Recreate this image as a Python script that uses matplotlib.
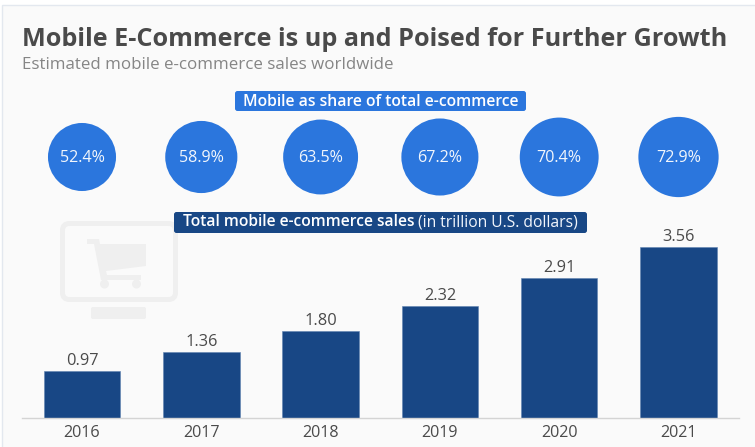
import matplotlib
matplotlib.use("Agg")
import matplotlib.pyplot as plt
from matplotlib.patches import Rectangle, FancyBboxPatch, Circle

plt.rcParams['font.family'] = ['Open Sans', 'DejaVu Sans']

years = ['2016', '2017', '2018', '2019', '2020', '2021']
sales = [0.97, 1.36, 1.80, 2.32, 2.91, 3.56]
shares = [52.4, 58.9, 63.5, 67.2, 70.4, 72.9]
sales_labels = ['0.97', '1.36', '1.80', '2.32', '2.91', '3.56']
share_labels = ['52.4%', '58.9%', '63.5%', '67.2%', '70.4%', '72.9%']

W, H = 755, 447
NAVY = '#184785'
BLUE = '#2b76dd'
TXT = '#4a4a4a'
BG = '#fafafa'

def box(l, t, r, b):
    return [l / W, 1 - b / H, (r - l) / W, (b - t) / H]

fig = plt.figure(figsize=(W / 100, H / 100), dpi=100, facecolor='#ffffff')

# overlay in pixel coordinates for decorations
bg = fig.add_axes([0, 0, 1, 1], zorder=0)
bg.set_xlim(0, W); bg.set_ylim(H, 0); bg.axis('off')
bg.add_patch(Rectangle((1.5, 4.5), W, H, fc=BG, ec='#e3e8ef', lw=1))

# faint monitor and cart icon
IC = '#efefef'
bg.add_patch(FancyBboxPatch((62.5, 223.5), 113, 76, boxstyle='round,pad=0,rounding_size=7', fc='none', ec=IC, lw=3.6))
bg.add_patch(FancyBboxPatch((91, 307), 55, 12, boxstyle='round,pad=0,rounding_size=2', fc=IC, ec='none'))
bg.add_patch(plt.Polygon([(87, 239), (99, 239), (100, 244), (146, 244), (146, 266), (106, 271), (107, 275),
                          (141, 275), (141, 280), (101, 280), (94, 244), (87, 244)],
                         closed=True, fc=IC, ec='none'))
bg.add_patch(Circle((104.5, 284), 4.5, fc=IC, ec='none'))
bg.add_patch(Circle((136.5, 284), 4.5, fc=IC, ec='none'))

# bars
ax = fig.add_axes(box(22, 220, 739, 417.5), zorder=2)
ax.patch.set_alpha(0)
xpos = list(range(len(years)))
px_per_step = 119.3
ax.set_xlim((22 - 82) / px_per_step, (739 - 82) / px_per_step)
ax.set_ylim(0, 197.5 / 48.0)
ax.bar(xpos, sales, width=76.5 / px_per_step, color=NAVY, edgecolor='#5f82b0', linewidth=0.4)
for x, v, s in zip(xpos, sales, sales_labels):
    ax.annotate(s, (x, v), xytext=(0, 1.5), textcoords='offset points', ha='center', va='bottom',
                fontsize=11.8, color=TXT)
ax.set_xticks(xpos, years)
ax.tick_params(axis='x', length=0, pad=5.5, labelsize=11.6, labelcolor=TXT)
ax.set_yticks([])
for sp in ['top', 'left', 'right']:
    ax.spines[sp].set_visible(False)
ax.spines['bottom'].set_color('#d4d4d4')
ax.spines['bottom'].set_linewidth(1)

# bubbles
cx = fig.add_axes(box(22, 110, 739, 204), zorder=2)
cx.patch.set_alpha(0)
cx.set_xlim(ax.get_xlim()); cx.set_ylim(0, 1); cx.axis('off')
sizes = [(2 * 4.7 * 0.72) ** 2 * v for v in shares]
cx.scatter(xpos, [0.5] * 6, s=sizes, color=BLUE, linewidths=0, clip_on=False)
for x, s in zip(xpos, share_labels):
    cx.text(x, 0.485, s, ha='center', va='center', fontsize=11.6, color='#f2f6fc')

# headings
fig.text(22 / W, 1 - 39.2 / H, 'Mobile E-Commerce is up and Poised for Further Growth',
         fontsize=18.22, fontweight='bold', color=TXT, va='center', ha='left')
fig.text(22 / W, 1 - 65 / H, 'Estimated mobile e-commerce sales worldwide',
         fontsize=12.2, color='#858585', va='center', ha='left')

# badges
top = fig.add_axes([0, 0, 1, 1], zorder=3)
top.set_xlim(0, W); top.set_ylim(H, 0); top.axis('off')
top.add_patch(FancyBboxPatch((235, 91), 291, 20, boxstyle='round,pad=0,rounding_size=2.5', fc=BLUE, ec='none'))
top.text(380.5, 101.5, 'Mobile as share of total e-commerce', ha='center', va='center',
         fontsize=11.3, fontweight='semibold', color='white')
top.add_patch(FancyBboxPatch((174, 212), 413, 21, boxstyle='round,pad=0,rounding_size=2.5', fc=NAVY, ec='none'))
t1 = top.text(183, 222.5, 'Total mobile e-commerce sales', ha='left', va='center', fontsize=11.25,
              fontweight='semibold', color='white')
fig.canvas.draw()
bb = t1.get_window_extent().transformed(top.transData.inverted())
top.text(bb.x1 + 3.5, 222.5, '(in trillion U.S. dollars)', ha='left', va='center', fontsize=11.25, color='#f2f6fc')

fig.savefig('out.png', dpi=100, facecolor=fig.get_facecolor())
